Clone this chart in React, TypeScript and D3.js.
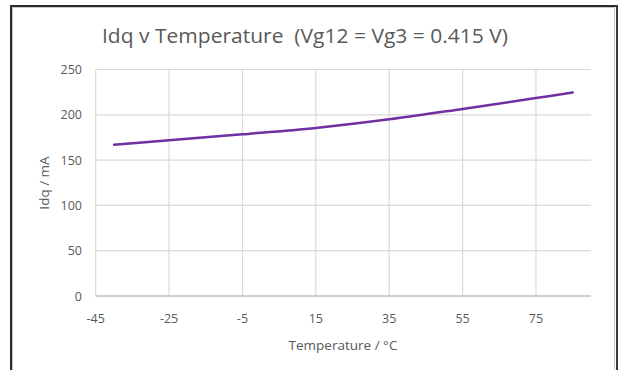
import React from "react";
import * as d3 from "d3";

const temps = [-40, -25, -5, 15, 35, 55, 75, 85];
const idq = [167, 172, 178.5, 185.5, 195, 206.5, 218.5, 224.5];
const xTicks = [-45, -25, -5, 15, 35, 55, 75];
const yTicks = [0, 50, 100, 150, 200, 250];
const title = "Idq v Temperature\u00a0 (Vg12 = Vg3 = 0.415 V)";
const xTitle = "Temperature / °C";
const yTitle = "Idq / mA";

const W = 618;
const H = 370;
const FONT = "Open Sans, Liberation Sans, sans-serif";

export default function App() {
  const x = d3.scaleLinear().domain([-45, 90]).range([95.7, 591]);
  const y = d3.scaleLinear().domain([0, 250]).range([296, 69.5]);
  const data = temps.map((t, i) => [t, idq[i]] as [number, number]);
  const line = d3
    .line<[number, number]>()
    .x((d) => x(d[0]))
    .y((d) => y(d[1]))
    .curve(d3.curveCatmullRom.alpha(0.5));

  return (
    <svg
      width={W}
      height={H}
      style={{ position: "absolute", left: 0, top: 0, background: "#fff" }}
    >
      <rect x={0} y={0} width={W} height={H} fill="#fff" />
      {/* frame */}
      <line x1={11} y1={5} x2={11} y2={H} stroke="#2b2b2b" strokeWidth={2} />
      <line x1={10} y1={6} x2={618} y2={6} stroke="#2b2b2b" strokeWidth={2} />
      <line x1={617} y1={5} x2={617} y2={H} stroke="#3a3a3a" strokeWidth={2} />
      <line x1={12.5} y1={7.5} x2={12.5} y2={H} stroke="#c8c8c8" strokeWidth={1} />
      <line x1={12} y1={7.5} x2={615} y2={7.5} stroke="#c8c8c8" strokeWidth={1} />
      <line x1={614.5} y1={7.5} x2={614.5} y2={H} stroke="#c8c8c8" strokeWidth={1} />

      <text
        x={305}
        y={43}
        textAnchor="middle"
        fontFamily={FONT}
        fontSize={19.5}
        fill="#595959"
        textLength={406}
        lengthAdjust="spacingAndGlyphs"
      >
        {title}
      </text>

      {/* horizontal grid */}
      {yTicks.map((t) =>
        t === 0 ? null : (
          <line
            key={"gy" + t}
            x1={x(-45)}
            x2={x(90)}
            y1={y(t)}
            y2={y(t)}
            stroke="#d9d9d9"
            strokeWidth={1.2}
          />
        )
      )}
      {/* vertical grid */}
      {xTicks.map((t) => (
        <line
          key={"gx" + t}
          x1={x(t)}
          x2={x(t)}
          y1={y(250)}
          y2={y(0)}
          stroke="#d9d9d9"
          strokeWidth={1.2}
        />
      ))}
      {/* x axis line */}
      <line x1={x(-45)} x2={x(90)} y1={y(0)} y2={y(0)} stroke="#bfbfbf" strokeWidth={1.3} />

      {yTicks.map((t) => (
        <text
          key={"ly" + t}
          x={82}
          y={y(t) + 4.5}
          textAnchor="end"
          fontFamily={FONT}
          fontSize={12.5}
          fill="#595959"
        >
          {t}
        </text>
      ))}
      {xTicks.map((t) => (
        <text
          key={"lx" + t}
          x={x(t)}
          y={323}
          textAnchor="middle"
          fontFamily={FONT}
          fontSize={12.5}
          fill="#595959"
        >
          {t}
        </text>
      ))}

      <text
        x={343}
        y={350}
        textAnchor="middle"
        fontFamily={FONT}
        fontSize={13.5}
        fill="#595959"
      >
        {xTitle}
      </text>
      <text
        transform={`translate(49,183) rotate(-90)`}
        textAnchor="middle"
        fontFamily={FONT}
        fontSize={13.5}
        fill="#595959"
      >
        {yTitle}
      </text>

      <path d={line(data) || ""} fill="none" stroke="#7030a0" strokeWidth={2.5} strokeLinecap="round" />
    </svg>
  );
}
